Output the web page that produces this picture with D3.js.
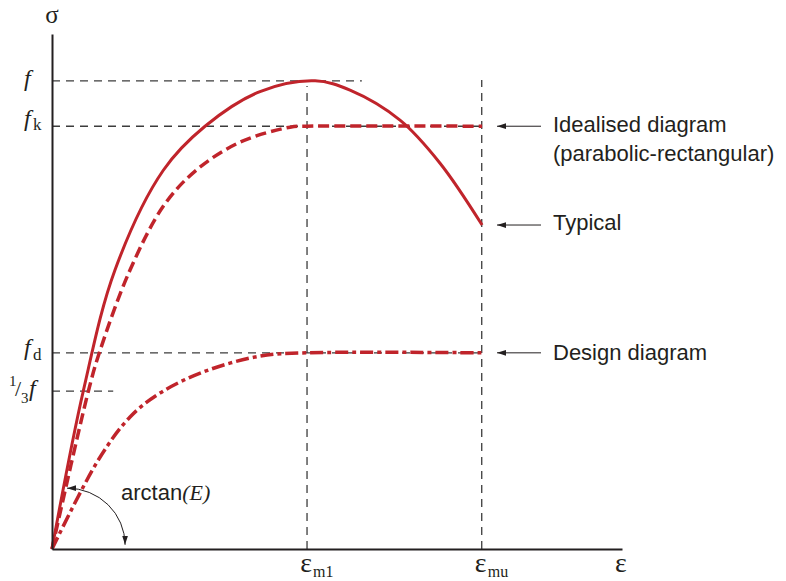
<!DOCTYPE html>
<html>
<head>
<meta charset="utf-8">
<script src="https://cdn.jsdelivr.net/npm/d3@7"></script>
<style>
  body { margin: 0; background: #fff; }
  svg { display: block; }
</style>
</head>
<body>
<svg id="chart" width="786" height="581"></svg>
<script>
// ---------------- data ----------------
// strain marks on the ε axis
const strainSymbols = ["ε", "ε"];
const strainSubs = ["m1", "mu"];
const strainValues = [2.0, 3.37];

// stress levels on the σ axis (f = 1)
const stressNames = ["f", "fk", "fd", "third"];
const stressValues = [1.0, 0.903, 0.419, 0.337];

// Typical curve
const typicalStrain = [0, 0.245, 0.494, 0.873, 1.2, 1.631, 2.063, 2.337, 2.729, 3.043, 3.373];
const typicalStress = [0, 0.337, 0.596, 0.809, 0.903, 0.977, 1.0, 0.98, 0.916, 0.824, 0.692];

// Idealised (parabolic-rectangular) diagram
const idealStrain = [0, 0.285, 0.371, 0.612, 0.88, 1.135, 1.475, 1.867, 2.0, 3.373];
const idealStress = [0, 0.337, 0.419, 0.596, 0.735, 0.81, 0.869, 0.901, 0.903, 0.903];

// Design diagram
const designStrain = [0, 0.363, 0.612, 0.847, 1.184, 1.631, 2.0, 3.373];
const designStress = [0, 0.19, 0.282, 0.333, 0.378, 0.412, 0.419, 0.419];

// annotation labels
const seriesLabels = ["Idealised diagram", "(parabolic-rectangular)", "Typical", "Design diagram"];

// ---------------- drawing ----------------
const red = "#c0242b";
const ink = "#231f20";
const guide = "#3c3c3c";

const svg = d3.select("#chart");
const x = d3.scaleLinear().domain([0, 4.47]).range([52, 622]);
const y = d3.scaleLinear().domain([0, 1.1]).range([549, 34]);

const defs = svg.append("defs");
defs.append("marker")
  .attr("id", "ah")
  .attr("viewBox", "0 0 10 10")
  .attr("refX", 10).attr("refY", 5)
  .attr("markerWidth", 9).attr("markerHeight", 9)
  .attr("markerUnits", "userSpaceOnUse")
  .attr("orient", "auto-start-reverse")
  .append("path")
  .attr("d", "M0,1.8L10,5L0,8.2Z")
  .attr("fill", ink);

// ---- dashed guide lines ----
const gGuides = svg.append("g")
  .attr("fill", "none")
  .attr("stroke", guide)
  .attr("stroke-width", 1.3)
  .attr("stroke-dasharray", "8,6");

const hGuideEnds = [2.43, strainValues[1], strainValues[1], 0.48];
stressValues.forEach((v, i) => {
  gGuides.append("line")
    .attr("x1", x(0)).attr("x2", x(hGuideEnds[i]))
    .attr("y1", y(v)).attr("y2", y(v));
});
const vGuideTops = [0.989, 1.002];
strainValues.forEach((v, i) => {
  gGuides.append("line")
    .attr("x1", x(v)).attr("x2", x(v))
    .attr("y1", y(0)).attr("y2", y(vGuideTops[i]));
});

// ---- curves ----
const line = d3.line()
  .x(d => x(d[0]))
  .y(d => y(d[1]))
  .curve(d3.curveCatmullRom.alpha(0.5));

const zip = (a, b) => a.map((v, i) => [v, b[i]]);

svg.append("path")
  .datum(zip(designStrain, designStress))
  .attr("d", line)
  .attr("fill", "none")
  .attr("stroke", red)
  .attr("stroke-width", 3.5)
  .attr("stroke-dasharray", "13,4,4,4");

svg.append("path")
  .datum(zip(idealStrain, idealStress))
  .attr("d", line)
  .attr("fill", "none")
  .attr("stroke", red)
  .attr("stroke-width", 3.5)
  .attr("stroke-dasharray", "11,5");

svg.append("path")
  .datum(zip(typicalStrain, typicalStress))
  .attr("d", line)
  .attr("fill", "none")
  .attr("stroke", red)
  .attr("stroke-width", 3);

// ---- axes ----
const xAxis = svg.append("g")
  .attr("transform", `translate(0,${y(0)})`)
  .call(d3.axisBottom(x).tickValues([]).tickSizeOuter(0));
const yAxis = svg.append("g")
  .attr("transform", `translate(${x(0)},0)`)
  .call(d3.axisLeft(y).tickValues([]).tickSizeOuter(0));
[xAxis, yAxis].forEach(a => a.select(".domain").attr("stroke", ink).attr("stroke-width", 2));

// axis titles
const serif = "'Liberation Serif', 'Times New Roman', serif";
const sans = "'Liberation Sans', Arial, Helvetica, sans-serif";

svg.append("text")
  .attr("x", x(0)).attr("y", 23)
  .attr("text-anchor", "middle")
  .attr("font-family", serif).attr("font-size", 25)
  .attr("fill", ink).text("σ");

svg.append("text")
  .attr("x", 621).attr("y", 572)
  .attr("text-anchor", "middle")
  .attr("font-family", serif).attr("font-size", 28)
  .attr("fill", ink).text("ε");

// strain labels
strainValues.forEach((v, i) => {
  svg.append("text")
    .attr("x", x(v) - 1).attr("y", 572)
    .attr("text-anchor", "middle")
    .attr("font-family", serif).attr("font-size", 28)
    .attr("fill", ink).text(strainSymbols[i]);
  svg.append("text")
    .attr("x", x(v) + 6).attr("y", 577)
    .attr("font-family", serif).attr("font-size", 16)
    .attr("fill", ink).text(strainSubs[i]);
});

// stress labels
function fLabel(yy, sub, fOff, subOff) {
  svg.append("text")
    .attr("x", 24).attr("y", yy + fOff)
    .attr("font-family", serif).attr("font-style", "italic").attr("font-size", 24)
    .attr("fill", ink).text("f");
  if (sub) {
    svg.append("text")
      .attr("x", 33).attr("y", yy + subOff)
      .attr("font-family", serif).attr("font-size", 17)
      .attr("fill", ink).text(sub);
  }
}
fLabel(y(stressValues[0]), null, 5, 0);
fLabel(y(stressValues[1]), "k", 0, 4);
fLabel(y(stressValues[2]), "d", 2, 7);
{
  const yy = y(stressValues[3]);
  svg.append("text").attr("x", 9).attr("y", yy - 5)
    .attr("font-family", serif).attr("font-size", 15).attr("fill", ink).text("1");
  svg.append("text").attr("x", 15).attr("y", yy + 5)
    .attr("font-family", serif).attr("font-size", 22).attr("fill", ink).text("/");
  svg.append("text").attr("x", 21).attr("y", yy + 12)
    .attr("font-family", serif).attr("font-size", 15).attr("fill", ink).text("3");
  svg.append("text").attr("x", 29).attr("y", yy + 5)
    .attr("font-family", serif).attr("font-style", "italic").attr("font-size", 24)
    .attr("fill", ink).text("f");
}

// ---- annotations with arrows ----
const annY = [y(stressValues[1]), y(typicalStress[typicalStress.length - 1]), y(stressValues[2])];
const annText = [[seriesLabels[0], seriesLabels[1]], [seriesLabels[2]], [seriesLabels[3]]];
const annTextOff = [6, 5, 7];
annY.forEach((yy, i) => {
  svg.append("path")
    .attr("d", `M541,${yy}L497,${yy}`)
    .attr("stroke", ink).attr("stroke-width", 1)
    .attr("fill", "none")
    .attr("marker-end", "url(#ah)");
  const t = svg.append("text")
    .attr("x", 553).attr("y", yy + annTextOff[i])
    .attr("font-family", sans).attr("font-size", 22)
    .attr("fill", ink);
  annText[i].forEach((s, j) => {
    t.append("tspan").attr("x", 553).attr("dy", j === 0 ? 0 : 28.5).text(s);
  });
});

// arctan(E) angle arc
{
  const sx = x(0.118), sy = y(0.13);
  const ex = x(0.573), ey = y(0.009);
  svg.append("path")
    .attr("d", `M${sx},${sy}A${ex - sx},${ey - sy} 0 0 1 ${ex},${ey}`)
    .attr("fill", "none").attr("stroke", ink).attr("stroke-width", 1)
    .attr("marker-start", "url(#ah)")
    .attr("marker-end", "url(#ah)");
  const t = svg.append("text")
    .attr("x", 121).attr("y", 500)
    .attr("font-family", sans).attr("font-size", 22).attr("fill", ink);
  t.append("tspan").text("arctan");
  t.append("tspan").attr("font-family", serif).attr("font-style", "italic").text("(E)");
}
</script>
</body>
</html>
